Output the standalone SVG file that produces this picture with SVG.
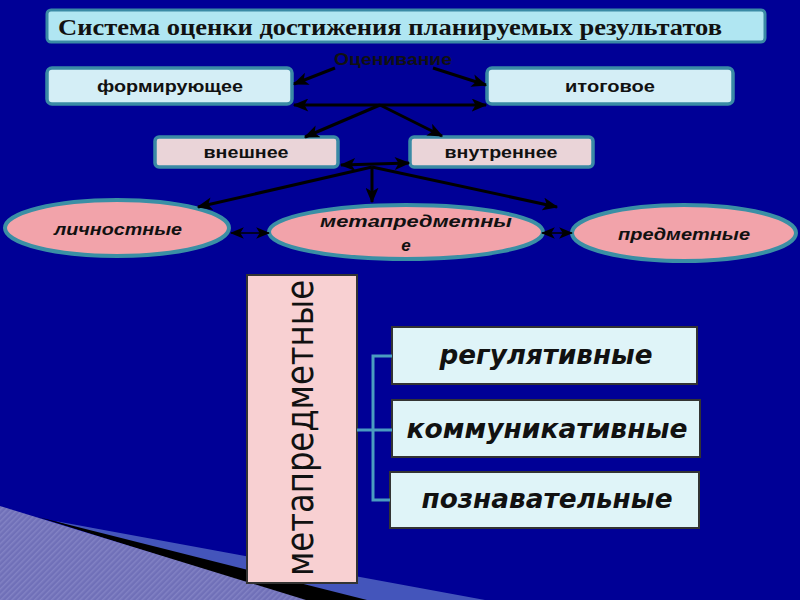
<svg xmlns="http://www.w3.org/2000/svg" width="800" height="600" viewBox="0 0 800 600">
<defs>
<marker id="ah" viewBox="0 0 12 10" refX="11" refY="5" markerWidth="16" markerHeight="13" markerUnits="userSpaceOnUse" orient="auto-start-reverse">
<path d="M0,0 L12,5 L0,10 L3,5 z" fill="#000"/>
</marker>
<marker id="ahs" viewBox="0 0 12 10" refX="11" refY="5" markerWidth="14" markerHeight="12" markerUnits="userSpaceOnUse" orient="auto-start-reverse">
<path d="M0,0 L12,5 L0,10 L3,5 z" fill="#000"/>
</marker>
<pattern id="hatch" width="4" height="4" patternUnits="userSpaceOnUse" patternTransform="rotate(45)">
<rect width="4" height="4" fill="#7070b8"/>
<rect width="1.5" height="4" fill="#8282c4"/>
</pattern>
</defs>
<style>
.bx{fill:#d4eef6;stroke:#3a8aa5;stroke-width:3.5}
.pk{fill:#ead4d8;stroke:#3a8aa5;stroke-width:3.5}
.el{fill:#f2a3aa;stroke:#3a8fa5;stroke-width:4}
.lb{fill:#dff4f8;stroke:#333;stroke-width:2}
.t{font-family:"Liberation Sans",Arial,sans-serif;fill:#111;text-anchor:middle;font-weight:bold;font-size:17px}
.ti{font-family:"Liberation Sans",Arial,sans-serif;font-style:italic;font-weight:bold;fill:#111;text-anchor:middle;font-size:17px}
.tl{font-family:"DejaVu Sans","Liberation Sans",sans-serif;font-style:italic;font-weight:bold;fill:#111;text-anchor:middle;font-size:27px}
.c{stroke:#000;stroke-width:3;fill:none}
.br{stroke:#4a9cc0;stroke-width:3;fill:none}
</style>
<rect width="800" height="600" fill="#000096"/>
<!-- bottom-left decoration -->
<polygon points="55,521 485,600 300,600" fill="#4455bb"/>
<polygon points="38,517 367,600 300,600" fill="#000"/>
<polygon points="0,506 306,600 0,600" fill="url(#hatch)"/>

<g id="title">
<rect x="47" y="10" width="718" height="32" rx="4" fill="#b0e6f2" stroke="#3a8aa5" stroke-width="3"/>
<text x="58" y="35" font-family="'Liberation Serif','Times New Roman',serif" font-weight="bold" font-size="23" fill="#111" textLength="664" lengthAdjust="spacingAndGlyphs">Система оценки достижения планируемых результатов</text>
</g>
<g id="ocenivanie">
<text class="t" x="393" y="65" font-size="17" fill="#1a1a33" textLength="118" lengthAdjust="spacingAndGlyphs">Оценивание</text>
</g>
<g id="formiruyushchee">
<rect class="bx" x="47" y="68" width="245" height="36" rx="5"/>
<text class="t" x="170" y="92" textLength="146" lengthAdjust="spacingAndGlyphs">формирующее</text>
</g>
<g id="itogovoe">
<rect class="bx" x="487" y="68" width="246" height="36" rx="5"/>
<text class="t" x="610" y="92" textLength="90" lengthAdjust="spacingAndGlyphs">итоговое</text>
</g>
<g id="vneshnee">
<rect class="pk" x="155" y="137" width="183" height="30" rx="4"/>
<text class="t" x="246" y="158" textLength="85" lengthAdjust="spacingAndGlyphs">внешнее</text>
</g>
<g id="vnutrennee">
<rect class="pk" x="410" y="137" width="183" height="30" rx="4"/>
<text class="t" x="501" y="158" textLength="113" lengthAdjust="spacingAndGlyphs">внутреннее</text>
</g>
<g id="lichnostnye">
<ellipse class="el" cx="117" cy="228" rx="112" ry="28"/>
<text class="ti" x="118" y="235" textLength="128" lengthAdjust="spacingAndGlyphs">личностные</text>
</g>
<g id="metapredmetnye">
<ellipse class="el" cx="406" cy="232" rx="137" ry="27"/>
<text class="ti" x="416" y="227" textLength="192" lengthAdjust="spacingAndGlyphs">метапредметны</text>
<text class="ti" x="406" y="251">е</text>
</g>
<g id="predmetnye">
<ellipse class="el" cx="684" cy="233" rx="112" ry="28"/>
<text class="ti" x="684" y="240" textLength="132" lengthAdjust="spacingAndGlyphs">предметные</text>
</g>
<g id="meta-vertical">
<rect x="247" y="275" width="110" height="308" fill="#f8d0d2" stroke="#333" stroke-width="2"/>
<text transform="translate(313,428) rotate(-90)" x="0" y="0" font-family="'DejaVu Sans','Liberation Sans',sans-serif" font-size="38" fill="#111" text-anchor="middle" textLength="296" lengthAdjust="spacingAndGlyphs">метапредметные</text>
</g>
<g id="regulyativnye">
<rect class="lb" x="392" y="327" width="305" height="57"/>
<text class="tl" x="546" y="364" textLength="213" lengthAdjust="spacingAndGlyphs">регулятивные</text>
</g>
<g id="kommunikativnye">
<rect class="lb" x="392" y="400" width="308" height="57"/>
<text class="tl" x="547" y="438" textLength="281" lengthAdjust="spacingAndGlyphs">коммуникативные</text>
</g>
<g id="poznavatelnye">
<rect class="lb" x="390" y="472" width="309" height="56"/>
<text class="tl" x="547" y="508" textLength="251" lengthAdjust="spacingAndGlyphs">познавательные</text>
</g>

<g id="connectors">
<line class="c" x1="335" y1="68" x2="294" y2="84" marker-end="url(#ah)"/>
<line class="c" x1="433" y1="68" x2="486" y2="85" marker-end="url(#ah)"/>
<line class="c" x1="294" y1="105" x2="486" y2="105" marker-start="url(#ah)" marker-end="url(#ah)"/>
<line class="c" x1="380" y1="105" x2="305" y2="137" marker-end="url(#ah)"/>
<line class="c" x1="380" y1="105" x2="442" y2="136" marker-end="url(#ah)"/>
<line class="c" x1="341" y1="165" x2="409" y2="163" marker-start="url(#ah)" marker-end="url(#ah)"/>
<line class="c" x1="372" y1="167" x2="372" y2="202" marker-end="url(#ah)"/>
<line class="c" x1="372" y1="167" x2="198" y2="207" marker-end="url(#ah)"/>
<line class="c" x1="372" y1="167" x2="557" y2="207" marker-end="url(#ah)"/>
<line x1="231" y1="233" x2="269" y2="233" stroke="#000" stroke-width="1.5" marker-start="url(#ahs)" marker-end="url(#ahs)"/>
<line x1="542" y1="233" x2="572" y2="233" stroke="#000" stroke-width="1.5" marker-start="url(#ahs)" marker-end="url(#ahs)"/>
<path class="br" d="M357,430 H392 M392,356 H373 V500 H390"/>
</g>
</svg>
